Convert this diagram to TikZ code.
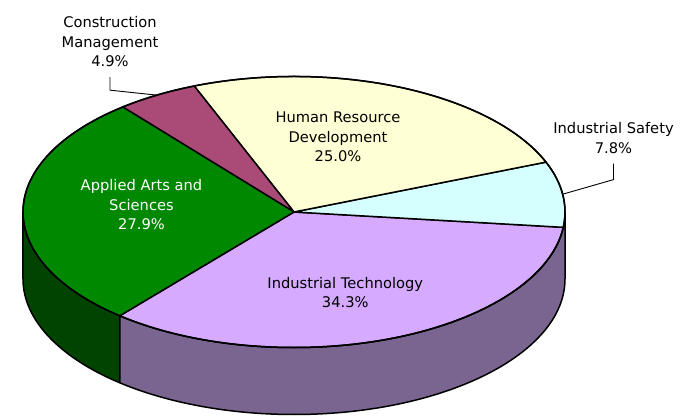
\documentclass[tikz,border=0pt]{standalone}
\usepackage{fontspec}
\setmainfont{DejaVu Sans}
\usepackage{tikz}
\usetikzlibrary{calc}

\definecolor{artsTop}{RGB}{0,136,0}
\definecolor{artsSide}{RGB}{0,68,0}
\definecolor{techTop}{RGB}{213,170,255}
\definecolor{techSide}{RGB}{122,100,144}
\definecolor{safeTop}{RGB}{213,255,255}
\definecolor{hrdTop}{RGB}{255,255,213}
\definecolor{cmTop}{RGB}{170,74,119}

\begin{document}
\begin{tikzpicture}[x=1pt, y=1pt, line join=round,
    edge/.style={draw=black, line width=1.5},
    rim/.style={x radius=271, y radius=135.5},
    lbl/.style={align=center, inner sep=0, font=\fontsize{14.67}{19.5}\selectfont},
    lead/.style={draw=black, line width=0.9}]

    \useasboundingbox (-294,-205) rectangle (394,212);

    \coordinate (O) at (0,0);

    \filldraw[edge, fill=artsSide] (180:271 and 135.5) arc[rim, start angle=180, end angle=230]
        -- ++(0,-67) arc[rim, start angle=230, end angle=180] -- cycle;
    \filldraw[edge, fill=techSide] (230:271 and 135.5) arc[rim, start angle=230, end angle=360]
        -- ++(0,-67) arc[rim, start angle=360, end angle=230] -- cycle;

    \filldraw[edge, fill=techTop] (O) -- (230:271 and 135.5) arc[rim, start angle=230, end angle=353.5] -- cycle;
    \filldraw[edge, fill=safeTop] (O) -- (-6.5:271 and 135.5) arc[rim, start angle=-6.5, end angle=21.6] -- cycle;
    \filldraw[edge, fill=hrdTop] (O) -- (21.6:271 and 135.5) arc[rim, start angle=21.6, end angle=111.6] -- cycle;
    \filldraw[edge, fill=cmTop] (O) -- (111.6:271 and 135.5) arc[rim, start angle=111.6, end angle=129.2] -- cycle;
    \filldraw[edge, fill=artsTop] (O) -- (129.2:271 and 135.5) arc[rim, start angle=129.2, end angle=230] -- cycle;

    \draw[edge] (O) ellipse[rim];

    \coordinate (pCM) at (120.4:271 and 135.5);
    \coordinate (pSafe) at (7.55:271 and 135.5);

    \node[lbl] (lCM) at (-184,170.2) {Construction\\Management\\4.9\%};
    \node[lbl] (lHRD) at (44,75) {Human Resource\\Development\\25.0\%};
    \node[lbl] (lSafe) at (319.5,74) {Industrial Safety\\7.8\%};
    \node[lbl, text=white] (lArts) at (-152.5,7) {Applied Arts and\\Sciences\\27.9\%};
    \node[lbl] (lTech) at (51.3,-80.7) {Industrial Technology\\34.3\%};

    \draw[lead] (lCM.south) ++(0,-10) -- ++(0,-13) -- (pCM);
    \draw[lead] (lSafe.south) ++(0,-10) -- ++(0,-16) -- (pSafe);

\end{tikzpicture}
\end{document}
